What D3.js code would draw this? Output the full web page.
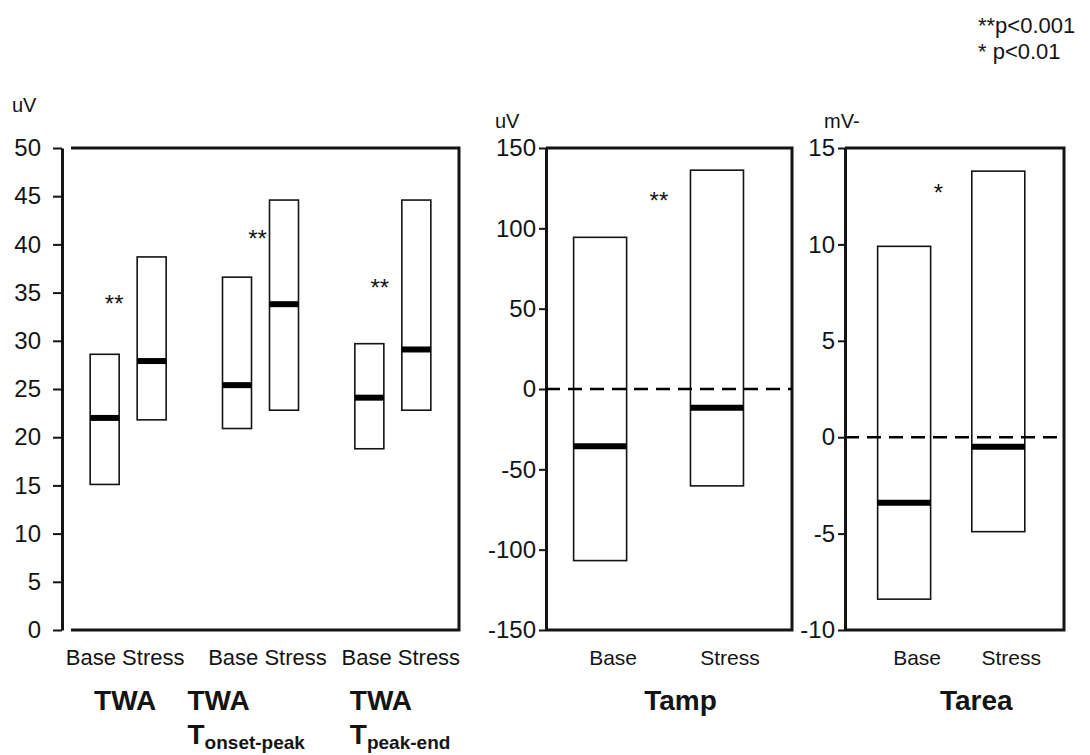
<!DOCTYPE html>
<html>
<head>
<meta charset="utf-8">
<script src="https://cdn.jsdelivr.net/npm/d3@7"></script>
<style>
  body { margin: 0; background: #fff; }
  svg { font-family: "Liberation Sans", Arial, Helvetica, sans-serif; }
</style>
</head>
<body>
<div id="chart"></div>
<script>
// ---- data ----
var conditions = ["Base", "Stress"];

var twaGroups  = ["TWA", "TWA onset-peak", "TWA peak-end"];
var twaTicks   = [0, 5, 10, 15, 20, 25, 30, 35, 40, 45, 50];
var twaLow     = [15.1, 21.8, 20.9, 22.8, 18.8, 22.8];
var twaHigh    = [28.6, 38.7, 36.6, 44.6, 29.7, 44.6];
var twaMedian  = [22.0, 27.9, 25.4, 33.8, 24.1, 29.1];
var twaStars   = [34.3, 41.1, 36.0];

var tampTicks  = [-150, -100, -50, 0, 50, 100, 150];
var tampLow    = [-106.8, -60.3];
var tampHigh   = [94.4, 136.2];
var tampMedian = [-35.7, -11.6];
var tampStar   = 120;

var tareaTicks  = [-10, -5, 0, 5, 10, 15];
var tareaLow    = [-8.4, -4.9];
var tareaHigh   = [9.9, 13.8];
var tareaMedian = [-3.4, -0.5];
var tareaStar   = 12.9;

var legendLines = ["**p<0.001", "* p<0.01"];

// ---- layout ----
var width = 1090, height = 755;
var plotTop = 148, plotBottom = 630;
var ink = "#141414";

var svg = d3.select("#chart").append("svg")
  .attr("width", width).attr("height", height)
  .style("background", "#fff");

function styleAxis(ax, size) {
  ax.select(".domain").attr("stroke", ink).attr("stroke-width", 3);
  ax.selectAll(".tick line").attr("stroke", ink).attr("stroke-width", 2);
  ax.selectAll(".tick text").attr("fill", ink).style("font-size", size + "px");
}

function drawBoxes(g, rows, xPos, y, boxW) {
  g.selectAll("rect.box").data(rows).enter().append("rect")
    .attr("class", "box")
    .attr("x", function(d){ return xPos(d) - boxW / 2; })
    .attr("y", function(d){ return y(d.high); })
    .attr("width", boxW)
    .attr("height", function(d){ return y(d.low) - y(d.high); })
    .attr("fill", "none").attr("stroke", ink).attr("stroke-width", 1.6);

  g.selectAll("line.med").data(rows).enter().append("line")
    .attr("class", "med")
    .attr("x1", function(d){ return xPos(d) - boxW / 2; })
    .attr("x2", function(d){ return xPos(d) + boxW / 2; })
    .attr("y1", function(d){ return y(d.median); })
    .attr("y2", function(d){ return y(d.median); })
    .attr("stroke", "#000").attr("stroke-width", 6);
}

function stars(g, x, yv, txt) {
  g.append("text")
    .attr("x", x).attr("y", yv + 13)
    .attr("text-anchor", "middle")
    .attr("fill", ink).style("font-size", "24px")
    .text(txt);
}

// plain hyphen for negatives, like the original figure
var fmt = function(d){ return String(d); };

// ---- panel 1 : TWA ----
var left1 = 62, right1 = 459;
var y1 = d3.scaleLinear().domain([0, 50]).range([plotBottom, plotTop]);
var x1 = d3.scalePoint().domain(twaGroups).range([left1, right1]).padding(0.5);
var xIn = d3.scalePoint().domain(conditions).range([-23.5, 23.5]);

var rows1 = [];
twaGroups.forEach(function(grp, i){
  conditions.forEach(function(c, j){
    rows1.push({grp: grp, cond: c, low: twaLow[i*2+j], high: twaHigh[i*2+j], median: twaMedian[i*2+j]});
  });
});

var g1 = svg.append("g");
g1.append("path")
  .attr("d", "M" + (left1 + 9) + "," + plotTop + "H" + right1 + "V" + plotBottom + "H" + (left1 + 9))
  .attr("fill", "none").attr("stroke", ink).attr("stroke-width", 3);
var ax1 = g1.append("g").attr("transform", "translate(" + left1 + ",0)")
  .call(d3.axisLeft(y1).tickValues(twaTicks).tickFormat(fmt).tickSize(9).tickSizeOuter(0).tickPadding(12));
styleAxis(ax1, 24);

drawBoxes(g1, rows1, function(d){ return x1(d.grp) + xIn(d.cond); }, y1, 29);
twaGroups.forEach(function(grp, i){
  stars(g1, x1(grp) + [-14, -3, -13][i], y1(twaStars[i]), "**");
  g1.append("text")
    .attr("x", x1(grp) + [-3, 7, 8][i]).attr("y", 665)
    .attr("text-anchor", "middle").attr("fill", ink)
    .style("font-size", "22px")
    .text(conditions.join(" "));
});

g1.append("text").attr("x", 12).attr("y", 112).attr("fill", ink)
  .style("font-size", "20px").text("uV");

// group titles
var titleG = svg.append("g").attr("fill", ink).style("font-weight", "bold");
titleG.append("text").attr("x", x1(twaGroups[0]) - 3).attr("y", 710)
  .attr("text-anchor", "middle").style("font-size", "28px").text("TWA");
[1, 2].forEach(function(i){
  var parts = twaGroups[i].split(" ");
  var gx = x1(twaGroups[i]) + (i === 1 ? -73 : -43);
  titleG.append("text").attr("x", gx).attr("y", 710)
    .style("font-size", "28px").text(parts[0]);
  var t = titleG.append("text").attr("x", gx).attr("y", 744)
    .style("font-size", "28px");
  t.append("tspan").text("T");
  t.append("tspan").attr("dy", 5).style("font-size", "19px").text(parts[1]);
});

// ---- panels 2 & 3 : Tamp, Tarea ----
function simplePanel(opts) {
  var y = d3.scaleLinear().domain(opts.domain).range([plotBottom, plotTop]);
  var pw = opts.right - opts.left;
  var x = d3.scalePoint().domain(conditions)
    .range([opts.left + opts.boxPos[0] * pw, opts.left + opts.boxPos[1] * pw]);
  var g = svg.append("g");

  g.append("path")
    .attr("d", "M" + opts.left + "," + plotTop + "H" + opts.right + "V" + plotBottom + "H" + opts.left)
    .attr("fill", "none").attr("stroke", ink).attr("stroke-width", 3);

  var ax = g.append("g").attr("transform", "translate(" + opts.left + ",0)")
    .call(d3.axisLeft(y).tickValues(opts.ticks).tickFormat(fmt).tickSize(7).tickSizeOuter(0).tickPadding(3));
  styleAxis(ax, 24);

  var rows = conditions.map(function(c, j){
    return {cond: c, low: opts.low[j], high: opts.high[j], median: opts.median[j]};
  });
  drawBoxes(g, rows, function(d){ return x(d.cond); }, y, 53);

  g.append("line")
    .attr("x1", opts.left).attr("x2", opts.right)
    .attr("y1", y(0)).attr("y2", y(0))
    .attr("stroke", "#000").attr("stroke-width", 2.5)
    .attr("stroke-dasharray", "14,8");

  stars(g, opts.left + opts.starPos * pw, y(opts.star), opts.starText);

  conditions.forEach(function(c){
    g.append("text").attr("x", x(c) + 13).attr("y", 665)
      .attr("text-anchor", "middle").attr("fill", ink)
      .style("font-size", "21px").text(c);
  });

  g.append("text")
    .attr("x", (x(conditions[0]) + x(conditions[1])) / 2 + opts.titleShift)
    .attr("y", 710).attr("text-anchor", "middle").attr("fill", ink)
    .style("font-size", "28px").style("font-weight", "bold").text(opts.title);

  g.append("text").attr("x", opts.unitX).attr("y", 128).attr("fill", ink)
    .style("font-size", "20px").text(opts.unit);
}

simplePanel({
  left: 546, right: 792, domain: [-150, 150], ticks: tampTicks,
  boxPos: [0.22, 0.695], low: tampLow, high: tampHigh, median: tampMedian,
  star: tampStar, starPos: 0.459, starText: "**",
  title: "Tamp", titleShift: 22, unit: "uV", unitX: 495
});

simplePanel({
  left: 845, right: 1064, domain: [-10, 15], ticks: tareaTicks,
  boxPos: [0.27, 0.70], low: tareaLow, high: tareaHigh, median: tareaMedian,
  star: tareaStar, starPos: 0.427, starText: "*",
  title: "Tarea", titleShift: 25, unit: "mV-", unitX: 824
});

// ---- significance legend ----
svg.append("g").selectAll("text").data(legendLines).enter().append("text")
  .attr("x", 978).attr("y", function(d, i){ return 33 + i * 26; })
  .attr("fill", ink).style("font-size", "22px")
  .text(function(d){ return d; });
</script>
</body>
</html>
